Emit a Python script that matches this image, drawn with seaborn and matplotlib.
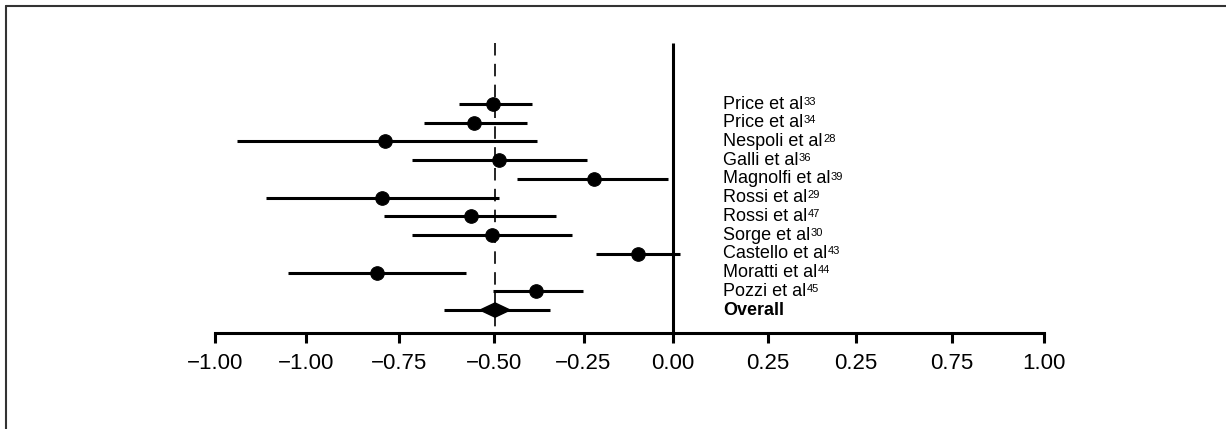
import numpy as np
import pandas as pd
import matplotlib
matplotlib.use('Agg')
import matplotlib.pyplot as plt
from matplotlib.lines import Line2D
import seaborn as sns

# study data
studies = ['Price et al', 'Price et al', 'Nespoli et al', 'Galli et al', 'Magnolfi et al', 'Rossi et al',
           'Rossi et al', 'Sorge et al', 'Castello et al', 'Moratti et al', 'Pozzi et al']
refs = ['33', '34', '28', '36', '39', '29', '47', '30', '43', '44', '45']
estimate = [-0.502, -0.555, -0.804, -0.486, -0.220, -0.812, -0.565, -0.505, -0.099, -0.826, -0.383]
ci_low = [-0.597, -0.696, -1.218, -0.730, -0.436, -1.138, -0.806, -0.730, -0.216, -1.075, -0.504]
ci_high = [-0.395, -0.409, -0.379, -0.241, -0.013, -0.486, -0.328, -0.281, 0.020, -0.578, -0.251]

overall_label = 'Overall'
overall_est = -0.497
overall_low = -0.640
overall_high = -0.344
overall_diamond_half = 0.042

# x axis ticks (labels exactly as printed in the figure)
tick_pos = [-1.28, -1.025, -0.765, -0.5, -0.25, 0.0, 0.265, 0.51, 0.78, 1.035]
tick_labels = ['\u22121.00', '\u22121.00', '\u22120.75', '\u22120.50', '\u22120.25',
               '0.00', '0.25', '0.25', '0.75', '1.00']

df = pd.DataFrame({'study': studies, 'ref': refs, 'est': estimate, 'lo': ci_low, 'hi': ci_high})
df['row'] = np.arange(len(df))
overall_row = len(df)

sns.set_style('white')
plt.rcParams['font.family'] = ['Liberation Sans', 'DejaVu Sans']
plt.rcParams['text.color'] = 'black'
plt.rcParams['xtick.color'] = 'black'

fig = plt.figure(figsize=(12.26, 4.29), dpi=100)
ax = fig.add_axes([0, 0, 1, 1])

axis_y = 12.23
top_y = -3.26

# reference lines
ax.vlines(0, top_y, axis_y, color='black', lw=2.2, zorder=1)
ax.vlines(overall_est, top_y, axis_y, color='black', lw=1.2, linestyles=(0, (7.5, 5)), zorder=1)

# confidence intervals + point estimates
ax.hlines(df['row'], df['lo'], df['hi'], color='black', lw=2.2, zorder=2)
sns.scatterplot(data=df, x='est', y='row', s=95, color='black', edgecolor='black',
                legend=False, ax=ax, zorder=3)

# overall summary
ax.hlines(overall_row, overall_low, overall_high, color='black', lw=2.2, zorder=2)
dh = 0.38
ax.fill([overall_est - overall_diamond_half, overall_est, overall_est + overall_diamond_half, overall_est],
        [overall_row, overall_row - dh, overall_row, overall_row + dh], color='black', zorder=3)

# study labels with small superscript reference numbers
for i, row in df.iterrows():
    t = ax.text(0.14, row['row'], row['study'], fontsize=13, va='center', ha='left')
    ax.annotate(row['ref'], xy=(1, 1), xycoords=t, xytext=(0.3, -0.8), textcoords='offset points',
                fontsize=8, va='top', ha='left')
ax.text(0.14, overall_row, overall_label, fontsize=13, va='center', ha='left', fontweight='bold')

ax.set_xlim(-673 / 358, (1226 - 673) / 358)
ax.set_ylim(17.35, -5.553)

for side in ['top', 'left', 'right']:
    ax.spines[side].set_visible(False)
ax.spines['bottom'].set_position(('data', axis_y))
ax.spines['bottom'].set_bounds(tick_pos[0], tick_pos[-1])
ax.spines['bottom'].set_linewidth(2.2)
ax.spines['bottom'].set_color('black')
ax.set_xticks(tick_pos, tick_labels)
ax.set_yticks([])
ax.tick_params(axis='x', direction='out', length=7.2, width=2.2, labelsize=16, pad=7, bottom=True)
ax.set_xlabel('')
ax.set_ylabel('')
ax.patch.set_alpha(0)

# frame lines at left and top of the figure
fig.add_artist(Line2D([6 / 1226, 6 / 1226], [0, 1 - 6 / 429], color='#333333', lw=1.5))
fig.add_artist(Line2D([6 / 1226, 1], [1 - 6 / 429, 1 - 6 / 429], color='#333333', lw=1.5))

fig.savefig('out.png', dpi=100)
